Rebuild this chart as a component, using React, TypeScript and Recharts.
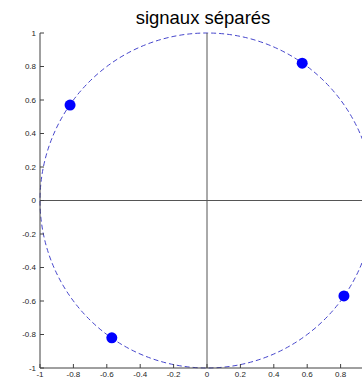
import {
  ReferenceArea,
  ReferenceLine,
  Scatter,
  ScatterChart,
  XAxis,
  YAxis,
} from 'recharts';

// separated signals, plotted on the unit circle
const pointX = [0.57, -0.82, -0.57, 0.82];
const pointY = [0.82, 0.57, -0.82, -0.57];

const axisTicks = [-1, -0.8, -0.6, -0.4, -0.2, 0, 0.2, 0.4, 0.6, 0.8, 1];
// the x = 1 end of the bottom axis falls past the clipped edge, so its label is left out
const bottomTicks = [-1, -0.8, -0.6, -0.4, -0.2, 0, 0.2, 0.4, 0.6, 0.8];

// reference circle: centre and radius in data units
const circleCenter = [0, 0];
const circleRadius = 1;

const points = pointX.map((x, i) => ({ x, y: pointY[i] }));

const AXIS = '#404040';
const FONT = '"Liberation Sans", Arial, sans-serif';
const TICK = { fontSize: 8, fill: '#262626', fontFamily: FONT };

function DashedCircle(props: { x?: number; y?: number; width?: number; height?: number }) {
  const { x = 0, y = 0, width = 0, height = 0 } = props;
  return (
    <ellipse
      cx={x + width / 2}
      cy={y + height / 2}
      rx={Math.abs(width) / 2}
      ry={Math.abs(height) / 2}
      fill="none"
      stroke="#4646cc"
      strokeWidth={1}
      strokeDasharray="5 3"
    />
  );
}

function Dot(props: { cx?: number; cy?: number }) {
  return <circle cx={props.cx} cy={props.cy} r={5.5} fill="#0000ff" />;
}

export default function App() {
  return (
    <div
      style={{
        position: 'absolute',
        left: 0,
        top: 0,
        width: 362,
        height: 384,
        overflow: 'hidden',
        background: '#fff',
      }}
    >
      <div
        style={{
          position: 'absolute',
          left: 36,
          width: 334,
          top: 7,
          textAlign: 'center',
          fontFamily: FONT,
          fontSize: 18.5,
          lineHeight: '22px',
          color: '#000',
        }}
      >
        signaux séparés
      </div>
      <ScatterChart width={400} height={384} margin={{ top: 33, right: 26, bottom: 0, left: 0 }}>
        <XAxis
          type="number"
          dataKey="x"
          domain={[-1, 1]}
          ticks={bottomTicks}
          interval={0}
          allowDataOverflow
          height={16}
          tickSize={-4}
          tickMargin={7}
          tick={TICK}
          stroke={AXIS}
          tickFormatter={(v: number) => String(v)}
        />
        <XAxis
          xAxisId="top"
          orientation="top"
          type="number"
          dataKey="x"
          domain={[-1, 1]}
          ticks={axisTicks}
          interval={0}
          allowDataOverflow
          height={0}
          tickSize={-4}
          tick={false}
          stroke={AXIS}
        />
        <YAxis
          type="number"
          dataKey="y"
          domain={[-1, 1]}
          ticks={axisTicks}
          interval={0}
          allowDataOverflow
          width={40}
          tickSize={-4}
          tickMargin={8}
          tick={TICK}
          stroke={AXIS}
          tickFormatter={(v: number) => String(v)}
        />
        <YAxis
          yAxisId="right"
          orientation="right"
          type="number"
          dataKey="y"
          domain={[-1, 1]}
          ticks={axisTicks}
          interval={0}
          allowDataOverflow
          width={0}
          tickSize={-4}
          tick={false}
          stroke={AXIS}
        />
        <ReferenceLine x={0} stroke="#555" strokeWidth={1} />
        <ReferenceLine y={0} stroke="#555" strokeWidth={1} />
        <ReferenceArea
          x1={circleCenter[0] - circleRadius}
          x2={circleCenter[0] + circleRadius}
          y1={circleCenter[1] - circleRadius}
          y2={circleCenter[1] + circleRadius}
          shape={<DashedCircle />}
        />
        <Scatter data={points} shape={<Dot />} isAnimationActive={false} />
      </ScatterChart>
    </div>
  );
}
